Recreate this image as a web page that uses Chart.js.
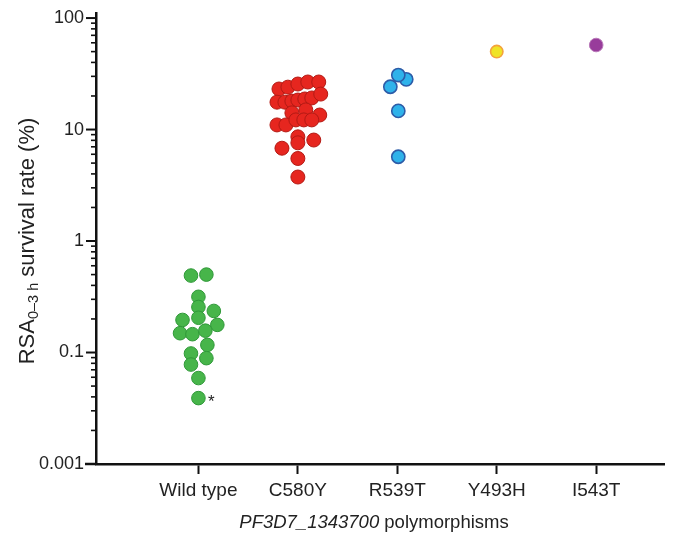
<!DOCTYPE html>
<html>
<head>
<meta charset="utf-8">
<script src="https://cdn.jsdelivr.net/npm/chart.js@4.4.1/dist/chart.umd.min.js"></script>
<style>
  html, body { margin: 0; padding: 0; background: #fff; }
  canvas { display: block; }
</style>
</head>
<body>
<canvas id="rsaChart" width="673" height="540"></canvas>
<script>
// categories and tick labels
const categories = ['Wild type', 'C580Y', 'R539T', 'Y493H', 'I543T'];
const yTickValues = [0.01, 0.1, 1, 10, 100];
const yTickLabels = ['0.001', '0.1', '1', '10', '100'];

// survival rates (%), with the horizontal scatter in category units
const wildTypeValues = [0.49, 0.50, 0.316, 0.256, 0.236, 0.196, 0.205, 0.177, 0.149, 0.146, 0.157, 0.117, 0.098, 0.089, 0.078, 0.059, 0.039];
const wildTypeJitter = [-0.075, 0.08, 0, 0, 0.155, -0.16, 0, 0.19, -0.185, -0.06, 0.07, 0.09, -0.075, 0.08, -0.075, 0, 0];
const c580yValues = [23.1, 24.0, 25.6, 26.7, 26.7, 17.6, 17.6, 18.0, 18.4, 18.8, 19.2, 20.8, 14.1, 15.0, 13.5, 11.0, 11.0, 12.2, 12.2, 12.2, 8.6, 8.05, 6.8, 7.6, 5.5, 3.75];
const c580yJitter = [-0.19, -0.10, 0, 0.10, 0.21, -0.21, -0.13, -0.06, 0, 0.07, 0.14, 0.23, -0.06, 0.08, 0.22, -0.21, -0.12, -0.02, 0.06, 0.14, 0, 0.16, -0.16, 0, 0, 0];
const r539tValues = [28.2, 30.8, 24.2, 14.7, 5.7];
const r539tJitter = [0.09, 0.01, -0.07, 0.01, 0.01];
const y493hValues = [50];
const y493hJitter = [0];
const i543tValues = [57.3];
const i543tJitter = [0];

const points = (idx, vals, jit) => vals.map((v, i) => ({ x: idx + jit[i], y: v }));

const groups = [
  { vals: wildTypeValues, jit: wildTypeJitter, fill: '#47b54a', edge: '#2f9838', bw: 1, r: 6.8 },
  { vals: c580yValues, jit: c580yJitter, fill: '#e6261f', edge: '#b31a14', bw: 1, r: 7 },
  { vals: r539tValues, jit: r539tJitter, fill: '#2fb2ea', edge: '#2d5ca8', bw: 1.6, r: 6.6 },
  { vals: y493hValues, jit: y493hJitter, fill: '#efe326', edge: '#f4a23c', bw: 1.6, r: 6.2 },
  { vals: i543tValues, jit: i543tJitter, fill: '#983c9b', edge: '#b878b8', bw: 1, r: 6.8 }
];

const FONT = '"Liberation Sans", Arial, Helvetica, sans-serif';

// axis decorations: log ticks, extended x axis line, titles, asterisk
const decorations = {
  id: 'decorations',
  afterDraw(chart) {
    const ctx = chart.ctx;
    const area = chart.chartArea;
    const y = chart.scales.y;
    ctx.save();
    ctx.strokeStyle = '#111';

    // y ticks (major long, minor short)
    for (let d = -2; d <= 2; d++) {
      const base = Math.pow(10, d);
      const py = y.getPixelForValue(base);
      ctx.lineWidth = 2;
      ctx.beginPath(); ctx.moveTo(area.left - 10, py); ctx.lineTo(area.left, py); ctx.stroke();
      for (let k = 2; k <= 9; k++) {
        const v = base * k;
        if (v > y.max) break;
        const pm = y.getPixelForValue(v);
        ctx.lineWidth = 1.6;
        ctx.beginPath(); ctx.moveTo(area.left - 5, pm); ctx.lineTo(area.left, pm); ctx.stroke();
      }
    }

    // x axis line runs a little past the y axis
    ctx.lineWidth = 2.5;
    ctx.beginPath(); ctx.moveTo(area.left - 11, area.bottom); ctx.lineTo(area.left, area.bottom); ctx.stroke();

    ctx.fillStyle = '#222';

    // y axis title with subscript
    ctx.save();
    ctx.translate(34, 241);
    ctx.rotate(-Math.PI / 2);
    ctx.textBaseline = 'alphabetic';
    ctx.textAlign = 'left';
    const big = '22px ' + FONT, small = '14.5px ' + FONT;
    ctx.font = big; const w1 = ctx.measureText('RSA').width;
    ctx.font = small; const w2 = ctx.measureText('0\u20133 h').width;
    ctx.font = big; const w3 = ctx.measureText(' survival rate (%)').width;
    let sx = -(w1 + w2 + w3) / 2;
    ctx.font = big; ctx.fillText('RSA', sx, 0); sx += w1;
    ctx.font = small; ctx.fillText('0\u20133 h', sx, 4); sx += w2;
    ctx.font = big; ctx.fillText(' survival rate (%)', sx, 0);
    ctx.restore();

    // x axis title, gene name in italics
    ctx.textBaseline = 'middle';
    ctx.textAlign = 'left';
    const itFont = 'italic 18.5px ' + FONT, nFont = '18.5px ' + FONT;
    ctx.font = itFont; const a = ctx.measureText('PF3D7_1343700').width;
    ctx.font = nFont; const b = ctx.measureText(' polymorphisms').width;
    let tx = 374 - (a + b) / 2;
    ctx.font = itFont; ctx.fillText('PF3D7_1343700', tx, 523);
    ctx.font = nFont; ctx.fillText(' polymorphisms', tx + a, 523);

    // asterisk beside the lowest wild type point
    const meta = chart.getDatasetMeta(0);
    let low = meta.data[0];
    meta.data.forEach(p => { if (p.y > low.y) low = p; });
    ctx.font = '17px ' + FONT;
    ctx.textAlign = 'center';
    ctx.fillText('*', low.x + 13, low.y + 4);

    ctx.restore();
  }
};

new Chart(document.getElementById('rsaChart'), {
  type: 'scatter',
  data: {
    datasets: groups.map((g, i) => ({
      label: categories[i],
      data: points(i, g.vals, g.jit),
      backgroundColor: g.fill,
      borderColor: g.edge,
      borderWidth: g.bw,
      pointRadius: g.r,
      pointHoverRadius: g.r
    }))
  },
  options: {
    responsive: false,
    animation: false,
    layout: { padding: { top: 13, right: 3, left: 0, bottom: 0 } },
    plugins: { legend: { display: false }, tooltip: { enabled: false } },
    scales: {
      x: {
        type: 'linear',
        min: -1.03,
        max: 4.69,
        afterFit: s => { s.height = 76; s.paddingLeft = 0; s.paddingRight = 0; },
        afterBuildTicks: s => { s.ticks = categories.map((c, i) => ({ value: i })); },
        grid: { drawOnChartArea: false, tickLength: 10, tickWidth: 2, tickColor: '#111' },
        border: { color: '#111', width: 2.5 },
        ticks: {
          padding: 5,
          color: '#222',
          font: { family: FONT, size: 19 },
          callback: v => categories[v]
        }
      },
      y: {
        type: 'logarithmic',
        min: 0.01,
        max: 111,
        afterFit: s => { s.width = 96; s.paddingTop = 0; s.paddingBottom = 0; },
        afterBuildTicks: s => { s.ticks = yTickValues.map(v => ({ value: v })); },
        grid: { display: false, drawTicks: false },
        border: { color: '#111', width: 2.5 },
        ticks: {
          padding: 12,
          color: '#222',
          font: { family: FONT, size: 18 },
          callback: v => yTickLabels[yTickValues.indexOf(v)]
        }
      }
    }
  },
  plugins: [decorations]
});
</script>
</body>
</html>
